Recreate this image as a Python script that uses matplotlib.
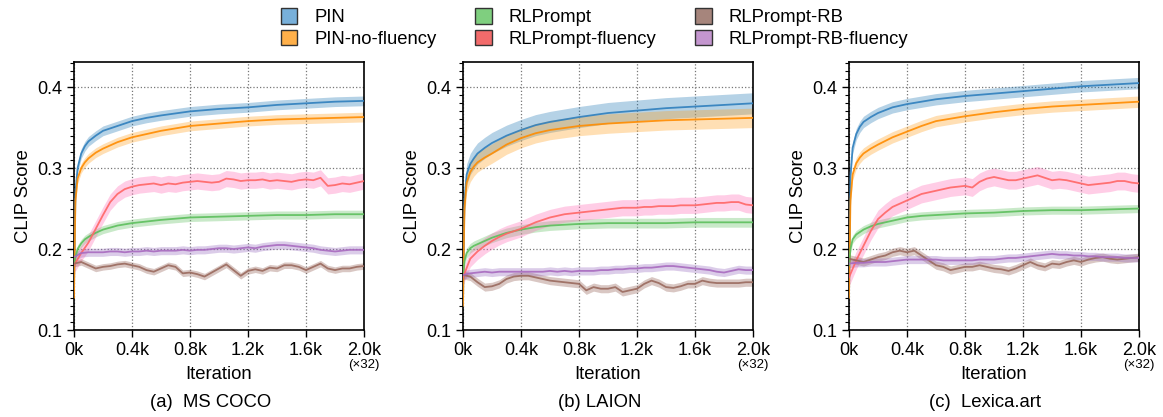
import matplotlib.pyplot as plt
import matplotlib.patches as mpatches
import numpy as np

plt.rcParams["font.family"] = ["Liberation Sans", "DejaVu Sans"]

# iteration grids (k steps)
x_fast = [0, 0.01, 0.025, 0.05, 0.075, 0.1, 0.15, 0.2, 0.3, 0.4, 0.5, 0.6, 0.8, 1.0, 1.2, 1.4, 1.6, 1.8, 2.0]
x_slow = [round(0.05 * i, 2) for i in range(41)]

labels = ["PIN", "PIN-no-fluency", "RLPrompt", "RLPrompt-fluency", "RLPrompt-RB", "RLPrompt-RB-fluency"]
captions = ["(a)  MS COCO", "(b) LAION", "(c)  Lexica.art"]
x_ticks = [0, 0.4, 0.8, 1.2, 1.6, 2.0]
x_ticklabels = ["0k", "0.4k", "0.8k", "1.2k", "1.6k", "2.0k"]

# (a) MS COCO
coco_pin = [0.15, 0.27, 0.30, 0.318, 0.327, 0.333, 0.340, 0.346, 0.352, 0.358, 0.362, 0.365, 0.370, 0.373,
            0.375, 0.378, 0.380, 0.382, 0.383]
coco_nofl = [0.14, 0.26, 0.287, 0.300, 0.307, 0.312, 0.319, 0.324, 0.332, 0.338, 0.342, 0.346, 0.352, 0.355,
             0.358, 0.360, 0.361, 0.362, 0.363]
coco_rl = [0.18, 0.19, 0.20, 0.207, 0.212, 0.215, 0.220, 0.224, 0.229, 0.232, 0.234, 0.236, 0.239, 0.240,
           0.241, 0.242, 0.242, 0.243, 0.243]
coco_rlfl = [0.180, 0.195, 0.208, 0.225, 0.242, 0.258, 0.268, 0.274, 0.277, 0.279, 0.280, 0.281, 0.279, 0.281,
             0.280, 0.282, 0.283, 0.284, 0.283, 0.282, 0.283, 0.287, 0.286, 0.284, 0.285, 0.285, 0.286, 0.284,
             0.285, 0.284, 0.283, 0.285, 0.286, 0.285, 0.288, 0.278, 0.279, 0.281, 0.280, 0.282, 0.284]
coco_rb = [0.182, 0.184, 0.180, 0.176, 0.178, 0.179, 0.181, 0.182, 0.180, 0.178, 0.174, 0.172, 0.176, 0.180,
           0.178, 0.170, 0.171, 0.169, 0.166, 0.171, 0.176, 0.181, 0.174, 0.167, 0.173, 0.175, 0.173, 0.177,
           0.176, 0.180, 0.180, 0.178, 0.174, 0.178, 0.182, 0.176, 0.174, 0.176, 0.176, 0.178, 0.179]
coco_rbfl = [0.190, 0.195, 0.196, 0.196, 0.196, 0.197, 0.197, 0.196, 0.197, 0.197, 0.198, 0.197, 0.198, 0.198,
             0.198, 0.199, 0.198, 0.199, 0.199, 0.200, 0.201, 0.201, 0.200, 0.201, 0.202, 0.201, 0.203, 0.204,
             0.205, 0.205, 0.204, 0.203, 0.202, 0.201, 0.199, 0.198, 0.197, 0.198, 0.199, 0.199, 0.199]
coco_band = [0.006, 0.006, 0.005, 0.010, 0.004, 0.005]

# (b) LAION
laion_pin = [0.13, 0.26, 0.292, 0.305, 0.312, 0.318, 0.325, 0.331, 0.340, 0.347, 0.353, 0.357, 0.363, 0.368,
             0.371, 0.374, 0.376, 0.378, 0.380]
laion_nofl = [0.13, 0.25, 0.282, 0.295, 0.302, 0.307, 0.313, 0.318, 0.329, 0.337, 0.343, 0.347, 0.352, 0.355,
              0.357, 0.359, 0.360, 0.361, 0.362]
laion_rl = [0.17, 0.185, 0.195, 0.201, 0.204, 0.206, 0.210, 0.214, 0.220, 0.224, 0.227, 0.229, 0.231, 0.232,
            0.232, 0.232, 0.233, 0.233, 0.233]
laion_rlfl = [0.165, 0.188, 0.197, 0.204, 0.210, 0.215, 0.219, 0.222, 0.225, 0.229, 0.233, 0.236, 0.239, 0.241,
              0.243, 0.244, 0.245, 0.246, 0.247, 0.248, 0.249, 0.250, 0.251, 0.251, 0.251, 0.252, 0.252, 0.253,
              0.253, 0.253, 0.254, 0.254, 0.254, 0.255, 0.256, 0.257, 0.257, 0.258, 0.258, 0.255, 0.254]
laion_rb = [0.168, 0.166, 0.159, 0.153, 0.154, 0.157, 0.163, 0.166, 0.167, 0.167, 0.165, 0.163, 0.161, 0.160,
            0.159, 0.158, 0.157, 0.149, 0.153, 0.151, 0.151, 0.153, 0.147, 0.149, 0.151, 0.157, 0.161, 0.158,
            0.153, 0.152, 0.154, 0.157, 0.157, 0.161, 0.159, 0.158, 0.158, 0.158, 0.158, 0.159, 0.159]
laion_rbfl = [0.168, 0.170, 0.171, 0.172, 0.171, 0.172, 0.172, 0.172, 0.172, 0.172, 0.172, 0.172, 0.173, 0.172,
              0.173, 0.172, 0.173, 0.173, 0.173, 0.174, 0.174, 0.175, 0.175, 0.176, 0.176, 0.177, 0.177, 0.178,
              0.179, 0.179, 0.178, 0.177, 0.176, 0.175, 0.174, 0.172, 0.171, 0.173, 0.175, 0.174, 0.174]
laion_band = [0.013, 0.012, 0.006, 0.010, 0.005, 0.005]

# (c) Lexica.art
lexica_pin = [0.14, 0.29, 0.325, 0.342, 0.351, 0.357, 0.363, 0.368, 0.375, 0.379, 0.382, 0.385, 0.389, 0.392,
              0.395, 0.398, 0.401, 0.403, 0.405]
lexica_nofl = [0.14, 0.26, 0.292, 0.306, 0.313, 0.318, 0.324, 0.329, 0.338, 0.345, 0.352, 0.358, 0.364, 0.369,
               0.373, 0.376, 0.378, 0.380, 0.382]
lexica_rl = [0.18, 0.20, 0.212, 0.218, 0.221, 0.224, 0.228, 0.231, 0.235, 0.239, 0.241, 0.242, 0.244, 0.245,
             0.247, 0.248, 0.248, 0.249, 0.250]
lexica_rlfl = [0.165, 0.186, 0.204, 0.222, 0.237, 0.245, 0.252, 0.256, 0.260, 0.264, 0.268, 0.270, 0.272, 0.274,
               0.276, 0.277, 0.278, 0.276, 0.283, 0.287, 0.289, 0.287, 0.285, 0.285, 0.287, 0.289, 0.291, 0.288,
               0.285, 0.286, 0.285, 0.283, 0.281, 0.279, 0.280, 0.281, 0.282, 0.284, 0.284, 0.282, 0.281]
lexica_rb = [0.188, 0.186, 0.184, 0.187, 0.190, 0.192, 0.196, 0.198, 0.196, 0.198, 0.192, 0.186, 0.180, 0.178,
             0.174, 0.176, 0.178, 0.178, 0.180, 0.178, 0.176, 0.175, 0.173, 0.176, 0.180, 0.184, 0.180, 0.178,
             0.182, 0.181, 0.184, 0.186, 0.184, 0.187, 0.189, 0.190, 0.188, 0.187, 0.188, 0.189, 0.190]
lexica_rbfl = [0.182, 0.183, 0.183, 0.184, 0.184, 0.184, 0.185, 0.186, 0.187, 0.187, 0.187, 0.187, 0.187, 0.186,
               0.186, 0.186, 0.186, 0.186, 0.187, 0.187, 0.187, 0.188, 0.189, 0.189, 0.190, 0.191, 0.192, 0.193,
               0.194, 0.193, 0.193, 0.192, 0.192, 0.191, 0.191, 0.190, 0.190, 0.190, 0.189, 0.189, 0.189]
lexica_band = [0.007, 0.007, 0.005, 0.011, 0.005, 0.005]

line_colors = ["#2f7fbd", "#ff8c00", "#5cbf5c", "#ff6666", "#9a6a5e", "#a86bbf"]
band_colors = ["#1f77b4", "#ff9f1c", "#5cbf5c", "#ff69b4", "#8c564b", "#9467bd"]
patch_colors = ["#78b0da", "#ffb04a", "#7fcf7f", "#f26b6b", "#a6857c", "#c496cf"]


def plot_panel(ax, series, bands, caption):
    xs = [x_fast, x_fast, x_fast, x_slow, x_slow, x_slow]
    for i, (x, y) in enumerate(zip(xs, series)):
        y = np.asarray(y)
        ax.fill_between(x, y - bands[i], y + bands[i], color=band_colors[i], alpha=0.33, lw=0, zorder=2)
        ax.plot(x, y, color=line_colors[i], lw=1.3, alpha=0.9, zorder=3)

    ax.set_xlim(0, 2.0)
    ax.set_ylim(0.1, 0.431)
    ax.set_xticks(x_ticks)
    ax.set_xticklabels(x_ticklabels)
    ax.set_yticks([0.1, 0.2, 0.3, 0.4])
    ax.set_yticks(np.arange(0.1, 0.431, 0.01), minor=True)
    ax.tick_params(axis="both", labelsize=13, direction="out", length=5, width=1)
    ax.tick_params(axis="y", which="minor", length=3, width=0.8)
    ax.grid(True, which="major", linestyle=":", color="#777777", lw=0.9, zorder=0)
    ax.set_axisbelow(True)
    for sp in ax.spines.values():
        sp.set_linewidth(1.2)
    ax.set_ylabel("CLIP Score", fontsize=13.3)
    ax.set_xlabel("Iteration", fontsize=13.3, labelpad=5)
    ax.text(1.0, -0.13, "(\u00d732)", transform=ax.transAxes, ha="center", va="center", fontsize=9.5)
    ax.text(0.47, -0.272, caption, transform=ax.transAxes, ha="center", va="center", fontsize=13.3)


fig = plt.figure(figsize=(11.63, 4.17), dpi=100)
lefts = [0.0636, 0.3981, 0.730]
panels = [
    ([coco_pin, coco_nofl, coco_rl, coco_rlfl, coco_rb, coco_rbfl], coco_band),
    ([laion_pin, laion_nofl, laion_rl, laion_rlfl, laion_rb, laion_rbfl], laion_band),
    ([lexica_pin, lexica_nofl, lexica_rl, lexica_rlfl, lexica_rb, lexica_rbfl], lexica_band),
]
for left, (series, bands), cap in zip(lefts, panels, captions):
    ax = fig.add_axes([left, 0.2086, 0.2494, 0.6427])
    plot_panel(ax, series, bands, cap)

handles = [mpatches.Patch(facecolor=c, edgecolor="#333333", lw=1) for c in patch_colors]
fig.legend(handles, labels, ncol=3, loc="upper center", bbox_to_anchor=(0.511, 1.02), frameon=False,
           fontsize=13.3, handlelength=0.9, handleheight=0.9, handletextpad=0.9, columnspacing=2.1,
           labelspacing=0.2)

fig.savefig("out.png", dpi=100)
